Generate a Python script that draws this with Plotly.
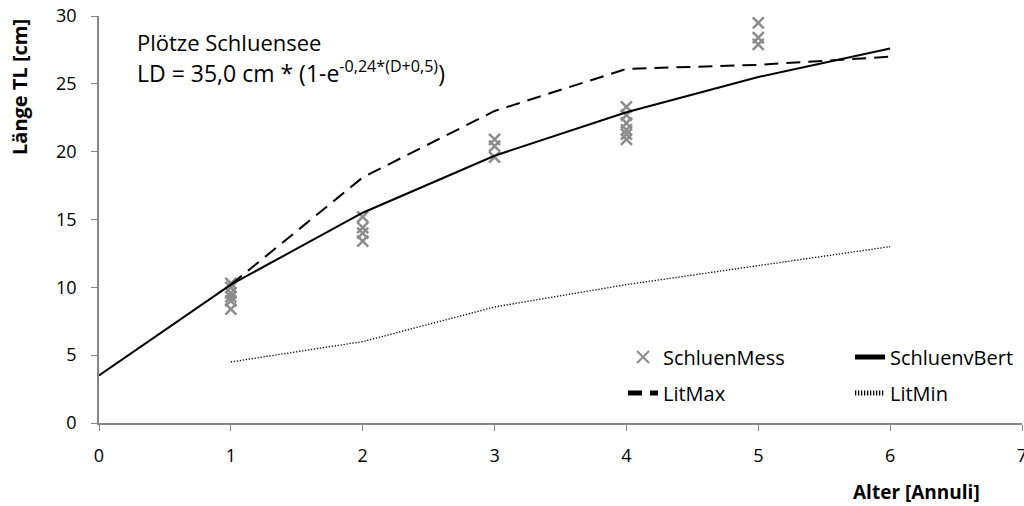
import plotly.graph_objects as go

# Data
mess_x = [1, 1, 1, 1, 1, 1, 2, 2, 2, 2, 3, 3, 3, 4, 4, 4, 4, 4, 4, 5, 5, 5]
mess_y = [8.4, 9.0, 9.3, 9.6, 10.0, 10.3, 15.2, 14.4, 14.0, 13.4, 20.9, 20.4, 19.6,
          23.3, 22.7, 22.1, 21.6, 21.3, 20.9, 29.5, 28.4, 27.9]
bert_x = [0, 1, 2, 3, 4, 5, 6]
bert_y = [3.5, 10.2, 15.5, 19.7, 22.9, 25.5, 27.6]
litmax_x = [1, 2, 3, 4, 5, 6]
litmax_y = [10.2, 18.1, 23.0, 26.1, 26.4, 27.0]
litmin_x = [1, 2, 3, 4, 5, 6]
litmin_y = [4.5, 6.0, 8.55, 10.2, 11.6, 13.0]
x_ticks = [0, 1, 2, 3, 4, 5, 6, 7]
y_ticks = [0, 5, 10, 15, 20, 25, 30]

FONT = "Open Sans"
W, H = 1024, 506
L, R, T, B = 99, 2, 16, 83
PW, PH = W - L - R, H - T - B


def px_x(px):  # page pixel -> paper
    return (px - L) / PW


def px_y(py):
    return (H - B - py) / PH


fig = go.Figure()
fig.add_trace(go.Scatter(x=mess_x, y=mess_y, mode="markers", name="SchluenMess",
                         marker=dict(symbol="x-thin", size=11, color="#8c8c8c",
                                     line=dict(width=2.5, color="#8c8c8c")),
                         legend="legend"))
fig.add_trace(go.Scatter(x=bert_x, y=bert_y, mode="lines", name="SchluenvBert",
                         line=dict(color="black", width=2), legend="legend2"))
fig.add_trace(go.Scatter(x=litmax_x, y=litmax_y, mode="lines", name="LitMax",
                         line=dict(color="black", width=2, dash="14px,8px"),
                         legend="legend3"))
fig.add_trace(go.Scatter(x=litmin_x, y=litmin_y, mode="lines", name="LitMin",
                         line=dict(color="black", width=1.3, dash="1.3px,1.7px"),
                         legend="legend4"))

axis_common = dict(showgrid=False, zeroline=False, showline=True,
                   linecolor="#868686", linewidth=1.5, ticks="outside",
                   ticklen=6, tickcolor="#868686", automargin=False,
                   ticklabeloverflow="allow",
                   tickfont=dict(family=FONT, size=18, color="black"))

fig.update_xaxes(range=[0, 7], tickvals=x_ticks, ticklabelstandoff=10, **axis_common)
fig.update_yaxes(range=[0, 30], tickvals=y_ticks, ticklabelstandoff=11, **axis_common)

legend_common = dict(orientation="h", font=dict(family=FONT, size=20, color="black"),
                     bgcolor="rgba(0,0,0,0)", xanchor="left", yanchor="middle",
                     itemsizing="constant")


def leg(text_px, py):
    return dict(x=px_x(text_px - 42), y=px_y(py), **legend_common)


fig.update_layout(
    width=W, height=H,
    showlegend=True,
    margin=dict(l=L, r=R, t=T, b=B, autoexpand=False),
    plot_bgcolor="white", paper_bgcolor="white",
    font=dict(family=FONT, size=18, color="black"),
    legend=leg(665, 357),
    legend2=leg(892, 357),
    legend3=leg(665, 393),
    legend4=leg(892, 393),
    annotations=[
        dict(text="Plötze Schluensee", x=px_x(135), y=px_y(42), xref="paper",
             yref="paper", showarrow=False, xanchor="left", yanchor="middle",
             font=dict(family=FONT, size=22)),
        dict(text="LD = 35,0 cm * (1-e<sup>-0,24*(D+0,5)</sup>)", x=px_x(135),
             y=px_y(72), xref="paper", yref="paper", showarrow=False,
             xanchor="left", yanchor="middle", font=dict(family=FONT, size=23)),
        dict(text="<b>Länge TL [cm]</b>", textangle=-90, x=px_x(19), y=px_y(87),
             xref="paper", yref="paper", showarrow=False, xanchor="center",
             yanchor="middle", font=dict(family=FONT, size=20)),
        dict(text="<b>Alter [Annuli]</b>", x=px_x(916), y=px_y(492), xref="paper",
             yref="paper", showarrow=False, xanchor="center", yanchor="middle",
             font=dict(family=FONT, size=19)),
    ],
)

fig.write_html("out.html", config={"displayModeBar": False},
               post_script="document.body.style.margin='0';")
